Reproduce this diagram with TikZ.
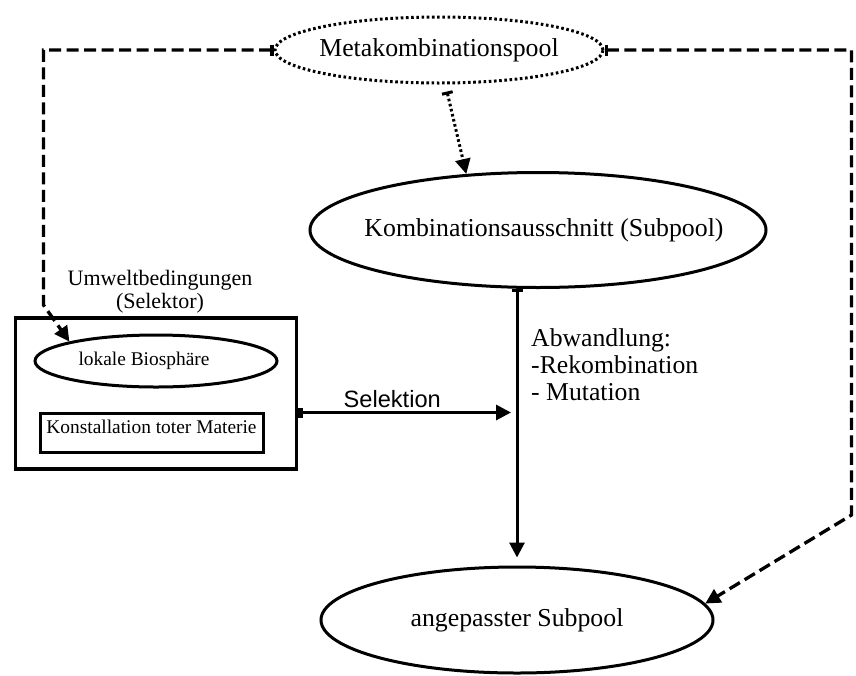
\documentclass[tikz,border=0pt]{standalone}
\usepackage{fontspec}
\setmainfont{Liberation Serif}
\newfontfamily\selfont{Liberation Sans}
\usepackage{tikz}
\usetikzlibrary{shapes.geometric, arrows.meta, positioning, fit}
\tikzstyle{pool} = [ellipse, draw=black, line width=3pt, inner sep=0pt, font=\fontsize{25.8}{28}\selectfont]
\tikzstyle{metapool} = [pool, dash pattern=on 2.6pt off 2.6pt]
\tikzstyle{biosphere} = [ellipse, draw=black, line width=3pt, inner sep=0pt, minimum width=242pt, minimum height=52pt, font=\fontsize{19.4}{21}\selectfont]
\tikzstyle{matter} = [rectangle, draw=black, line width=3pt, minimum width=223pt, minimum height=39pt, text depth=12pt, inner sep=0pt, font=\fontsize{19.4}{21}\selectfont]
\tikzstyle{selector} = [rectangle, draw=black, line width=3.3pt, inner xsep=18pt, inner ysep=15.5pt]
\tikzstyle{arrow} = [line width=3pt, arrows={Bar[width=11pt]-Triangle[length=15pt,width=15pt]}]
\tikzstyle{selarrow} = [line width=3pt, arrows={Square[length=5pt,width=10pt]-Triangle[length=15pt,width=15pt]}]
\tikzstyle{dasharrow} = [arrow, line width=3.3pt, dash pattern=on 12pt off 5.5pt]
\tikzstyle{dotarrow} = [arrow, dash pattern=on 2.6pt off 2.6pt]

\begin{document}
\begin{tikzpicture}[x=1pt, y=-1pt]
  \useasboundingbox (0,0) rectangle (856,675);

  % Pools
  \node (meta) [metapool, minimum width=328pt, minimum height=66pt] at (439,50) {\makebox[0pt]{Metakombinationspool}};
  \node (kombi) [pool, minimum width=456pt, minimum height=115pt] at (538,230) {\makebox[0pt]{\hspace*{12pt}Kombinationsausschnitt (Subpool)}};
  \node (angepasst) [pool, minimum width=392pt, minimum height=106pt] at (517,620) {\makebox[0pt]{angepasster Subpool}};

  % Selector box
  \node (bio) [biosphere] at (156,361) {\makebox[0pt]{\hspace*{-24pt}lokale Biosphäre}};
  \node (matter) [matter] at (151.5,432.5) {Konstallation toter Materie};
  \node (umwelt) [selector, fit={(bio) (matter)}] {};
  \node (umweltlabel) [above=3pt of umwelt, xshift=4pt, align=center, inner sep=0pt, font=\fontsize{22}{22.5}\selectfont] {Umweltbedingungen\\(Selektor)};

  % Change label
  \node (abwandlung) [anchor=north west, align=left, inner sep=0pt, font=\fontsize{25.7}{27}\selectfont] at (531,328) {Abwandlung:\\-Rekombination\\- Mutation};

  % Arrows from the meta pool
  \draw [dotarrow] ([xshift=8pt,yshift=-7pt]meta.south) -- (kombi.142);
  \draw [dasharrow] (meta.west) -- ++(-230,0) -- ++(0,255) -- (bio.north west);
  \draw [dasharrow] (meta.east) -- ++(247,0) -- ++(0,465) -- (angepasst.5);

  % Main flow
  \draw [arrow, shorten >=8pt] (kombi.south -| angepasst.north) -- (angepasst.north);

  % Selection
  \coordinate (selstart) at ([yshift=-19pt]umwelt.east);
  \draw [selarrow, shorten >=6pt] (selstart) -- (selstart -| angepasst.north) node [pos=0.43, above, font=\selfont\fontsize{23.6}{26}\selectfont] {Selektion};
\end{tikzpicture}
\end{document}
